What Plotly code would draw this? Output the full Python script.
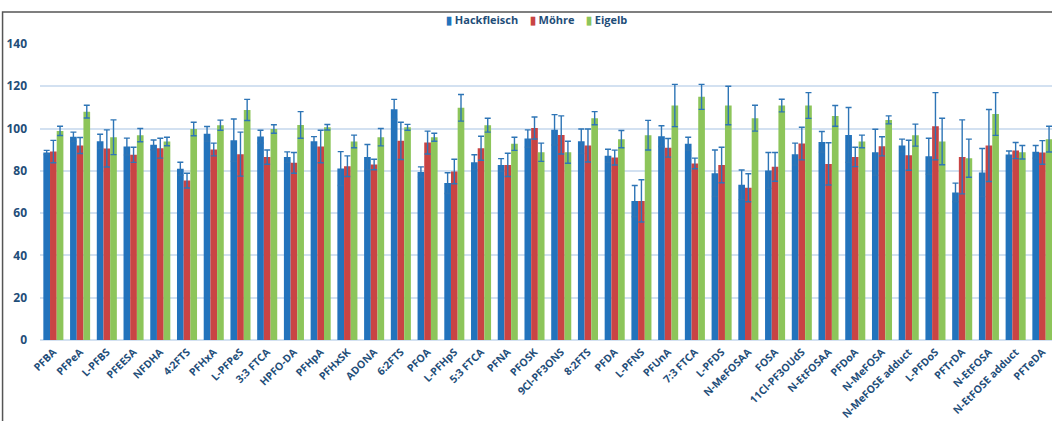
import plotly.graph_objects as go

categories = ["PFBA", "PFPeA", "L-PFBS", "PFEESA", "NFDHA", "4:2FTS", "PFHxA", "L-PFPeS",
              "3:3 FTCA", "HPFO-DA", "PFHpA", "PFHxSK", "ADONA", "6:2FTS", "PFOA", "L-PFHpS",
              "5:3 FTCA", "PFNA", "PFOSK", "9Cl-PF3ONS", "8:2FTS", "PFDA", "L-PFNS", "PFUnA",
              "7:3 FTCA", "L-PFDS", "N-MeFOSAA", "FOSA", "11Cl-PF3OUdS", "N-EtFOSAA", "PFDoA",
              "N-MeFOSA", "N-MeFOSE adduct", "L-PFDoS", "PFTrDA", "N-EtFOSA", "N-EtFOSE adduct", "PFTeDA"]

hackfleisch = [88.7, 96.1, 94.0, 91.5, 92.3, 81.0, 97.5, 94.5, 96.2, 86.5, 94.0, 81.1, 86.5, 109.1,
               79.5, 74.2, 84.1, 82.8, 95.3, 99.4, 94.0, 87.1, 65.7, 96.4, 92.8, 78.9, 73.4, 80.2,
               87.9, 93.7, 97.0, 88.8, 92.0, 86.9, 69.8, 79.2, 87.7, 89.0]
hackfleisch_err = [1.0, 2.2, 3.3, 4.0, 2.3, 3.1, 3.5, 10.0, 3.0, 2.5, 2.2, 8.0, 6.0, 4.7, 2.4, 4.9,
                   3.5, 3.0, 4.1, 7.2, 5.8, 3.1, 7.4, 4.9, 3.1, 11.0, 7.0, 8.5, 5.2, 4.9, 13.0, 10.9,
                   3.0, 8.5, 4.4, 11.4, 1.7, 3.0]

moehre = [89.1, 92.0, 90.6, 87.6, 90.7, 75.4, 90.1, 87.9, 86.5, 83.8, 91.5, 82.2, 83.0, 94.2,
          93.4, 79.7, 90.7, 82.8, 100.3, 97.0, 92.0, 86.3, 65.8, 90.9, 83.5, 82.8, 72.0, 81.9,
          92.9, 83.3, 86.6, 91.6, 87.4, 101.1, 86.6, 92.0, 89.6, 88.7]
moehre_err = [5.3, 3.8, 8.8, 3.6, 4.7, 3.5, 3.0, 10.4, 3.4, 4.9, 7.7, 4.9, 2.5, 8.8, 5.4, 5.8,
              5.7, 5.5, 5.2, 9.0, 7.8, 3.5, 10.0, 4.4, 2.5, 8.4, 6.6, 6.8, 7.7, 10.0, 4.6, 4.5,
              7.1, 15.9, 17.5, 17.0, 3.8, 5.6]

eigelb = [98.9, 108.0, 95.9, 96.9, 93.9, 99.8, 101.6, 108.8, 99.8, 101.7, 100.6, 93.9, 95.9, 100.6,
          95.9, 109.8, 101.6, 92.8, 88.8, 88.8, 104.9, 95.0, 96.9, 110.9, 115.0, 110.9, 104.9, 110.9,
          110.9, 106.0, 93.9, 104.1, 96.9, 93.9, 86.0, 106.9, 88.8, 95.0]
eigelb_err = [2.2, 3.0, 8.2, 3.1, 2.0, 3.2, 2.4, 5.0, 2.0, 6.3, 1.3, 3.0, 4.1, 1.4, 1.9, 6.3,
              3.3, 3.1, 4.3, 5.2, 3.1, 4.1, 7.0, 10.0, 5.9, 9.1, 6.1, 3.0, 6.1, 4.9, 3.0, 1.9,
              5.2, 11.0, 9.0, 10.1, 3.2, 6.1]

series_names = ["Hackfleisch", "Möhre", "Eigelb"]
series_colors = ["#2373BC", "#C94444", "#8DC55A"]

TEXT = "#1F4E79"
FONT = "Open Sans"

fig = go.Figure()
for name, vals, errs, col in zip(series_names, [hackfleisch, moehre, eigelb],
                                 [hackfleisch_err, moehre_err, eigelb_err], series_colors):
    fig.add_trace(go.Bar(
        name=name, x=categories, y=vals,
        marker=dict(color=col, line=dict(width=0)),
        error_y=dict(type="data", array=errs, visible=True, color="#2E75B6",
                     thickness=1.4, width=3),
        showlegend=False,
    ))

# compact Excel-style legend built from the series names and colours
legend_text = "&nbsp;&nbsp;&nbsp;&nbsp;".join(
    f'<span style="color:{c}">▮</span> {n}' for n, c in zip(series_names, series_colors))

fig.update_layout(
    width=1052, height=421,
    margin=dict(l=40, r=0, t=44, b=81),
    paper_bgcolor="white", plot_bgcolor="white",
    barmode="group", bargap=0.25, bargroupgap=0,
    font=dict(family=FONT, color=TEXT, size=11, weight="bold"),
    xaxis=dict(range=[-0.5, 37.36], tickangle=-45, showgrid=False, showline=False,
               ticks="", automargin=False, ticklabelstandoff=3,
               tickfont=dict(family=FONT, size=10.5, color=TEXT, weight="bold")),
    yaxis=dict(range=[0, 140], dtick=20, showgrid=True, gridcolor="#D3E1F1", gridwidth=1.5,
               zeroline=True, zerolinecolor="#D3E1F1", zerolinewidth=1.5, showline=False,
               ticks="", ticklabelstandoff=12, automargin=False,
               tickfont=dict(family=FONT, size=12, color=TEXT, weight="bold")),
    annotations=[dict(text=legend_text, xref="paper", yref="paper", x=0.491, y=1.084,
                      xanchor="center", yanchor="middle", showarrow=False,
                      font=dict(family=FONT, size=11, color=TEXT, weight="bold"))],
    shapes=[dict(type="rect", xref="paper", yref="paper",
                 x0=-0.037, x1=1.05, y0=-0.5, y1=1.108,
                 line=dict(color="#555555", width=1.5), layer="above")],
)

fig.write_html("out.html")
